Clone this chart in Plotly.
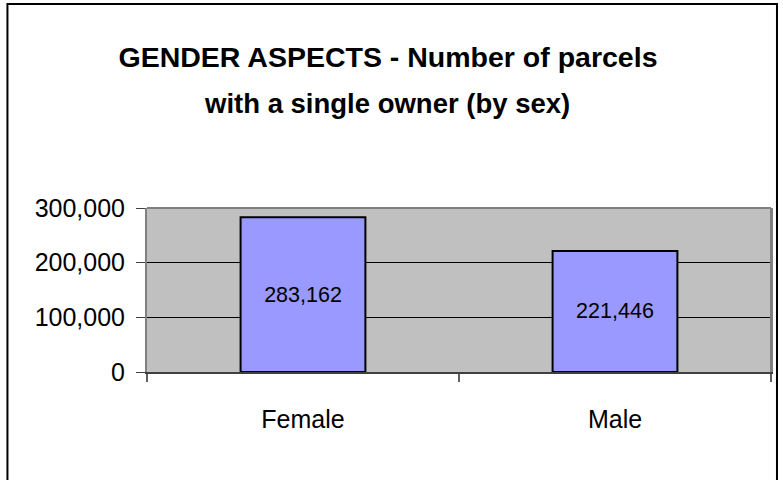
import plotly.graph_objects as go

categories = ["Female", "Male"]
parcels = [283162, 221446]
y_ticks = [0, 100000, 200000, 300000]
title_line1 = "GENDER ASPECTS - Number of parcels"
title_line2 = "with a single owner (by sex)"

FONT = "Liberation Sans, Arial, sans-serif"

# plot area in pixels: x 147..773, y 208..372
L, R, T, B = 147, 773, 208, 372
PW, PH = R - L, B - T


def px_x(x):
    return (x - L) / PW


def px_y(y):
    return (B - y) / PH


fig = go.Figure(
    go.Bar(
        x=categories,
        y=parcels,
        marker=dict(color="#9999FF", line=dict(color="black", width=2)),
        texttemplate="%{y:,}",
        textposition="inside",
        insidetextanchor="middle",
        textfont=dict(family=FONT, size=21.5, color="black"),
        width=0.4,
        hoverinfo="skip",
    )
)

fig.update_layout(
    width=783,
    height=480,
    paper_bgcolor="white",
    plot_bgcolor="#C0C0C0",
    margin=dict(l=L, r=783 - R, t=T, b=480 - B),
    showlegend=False,
    title=dict(
        text=title_line1,
        x=388 / 783,
        xanchor="center",
        y=1 - 57 / 480,
        yanchor="middle",
        font=dict(family=FONT, size=28.5, color="black", weight="bold"),
    ),
    font=dict(family=FONT, color="black"),
    annotations=[
        dict(
            text=title_line2, xref="paper", yref="paper",
            x=px_x(388), y=px_y(103), xanchor="center", yanchor="middle",
            showarrow=False,
            font=dict(family=FONT, size=27.5, color="black", weight="bold"),
        )
    ],
    shapes=[
        dict(
            type="rect", xref="paper", yref="paper",
            x0=px_x(7), x1=px_x(779), y0=px_y(500), y1=px_y(4),
            line=dict(color="black", width=2), fillcolor="rgba(0,0,0,0)",
            layer="below",
        ),
        dict(type="line", xref="paper", yref="paper", x0=1, x1=1, y0=0, y1=1,
             line=dict(color="#808080", width=2)),
        dict(type="line", xref="paper", yref="paper", x0=0, x1=1, y0=1, y1=1,
             line=dict(color="#808080", width=2)),
    ],
)

fig.update_xaxes(
    type="category",
    showline=True, linecolor="#404040", linewidth=2, mirror=False,
    ticks="outside", tickson="boundaries", ticklen=8, tickcolor="#606060", tickwidth=2,
    tickfont=dict(family=FONT, size=25, color="black"),
    ticklabelstandoff=24,
    showgrid=False,
)
fig.update_yaxes(
    range=[0, 300000],
    tickvals=y_ticks,
    tickformat=",d",
    showline=True, linecolor="#808080", linewidth=2, mirror=True,
    ticks="outside", ticklen=9, tickcolor="#404040", tickwidth=1,
    tickfont=dict(family=FONT, size=25, color="black"),
    ticklabelstandoff=6,
    showgrid=True, gridcolor="black", gridwidth=1,
    zeroline=False,
)

fig.write_html(
    "out.html",
    config={"displayModeBar": False},
    post_script="document.body.style.margin='0';document.body.style.overflow='hidden';",
)
